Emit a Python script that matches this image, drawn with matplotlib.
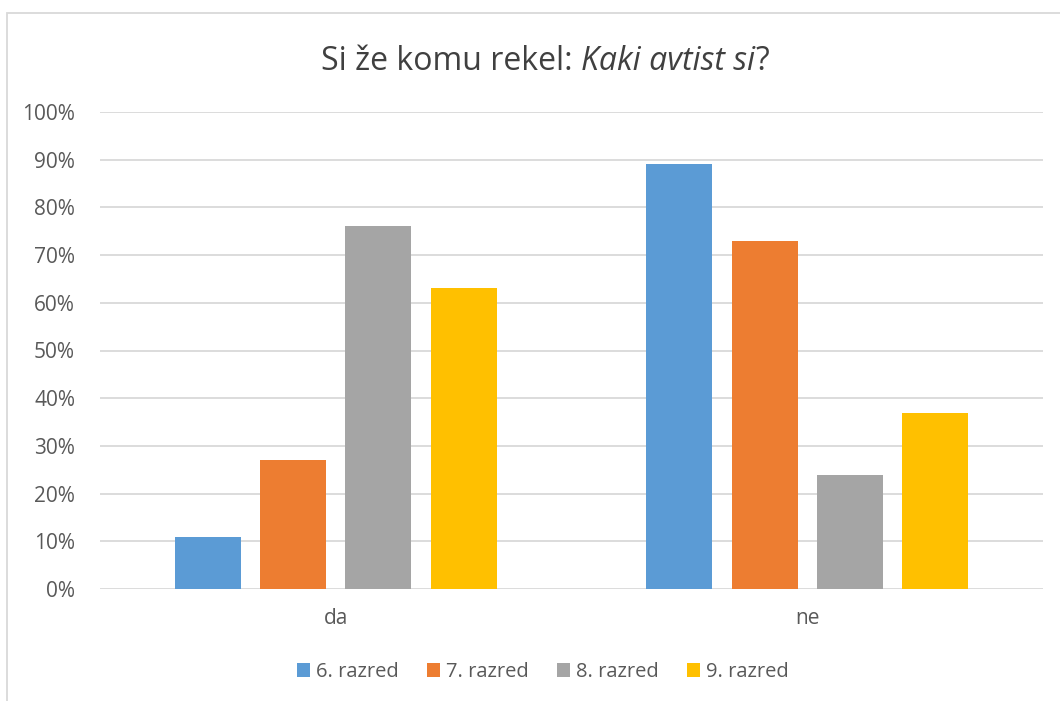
import matplotlib
matplotlib.use("Agg")
import matplotlib.pyplot as plt
import numpy as np
from matplotlib.patches import Rectangle
from matplotlib.ticker import FuncFormatter

categories = ["da", "ne"]
series = ["6. razred", "7. razred", "8. razred", "9. razred"]
values = [
    [11, 89],
    [27, 73],
    [76, 24],
    [63, 37],
]
colors = ["#5B9BD5", "#ED7D31", "#A5A5A5", "#FFC000"]

plt.rcParams["font.family"] = ["Open Sans", "DejaVu Sans"]
text_color = "#595959"

fig = plt.figure(figsize=(10.6, 7.01), dpi=100)
ax = fig.add_axes([100 / 1060, 1 - 589 / 701, 943 / 1060, 477 / 701])

x = np.arange(len(categories))
width = 0.14
step = 0.181
for i, (name, vals) in enumerate(zip(series, values)):
    ax.bar(x + (i - 1.5) * step, vals, width, color=colors[i], label=name, zorder=3)

ax.set_xlim(-0.5, 1.5)
ax.set_ylim(0, 100)
ax.set_yticks(range(0, 101, 10))
ax.yaxis.set_major_formatter(FuncFormatter(lambda v, p: f"{int(v)}%"))
ax.set_xticks(x)
ax.set_xticklabels(categories)
ax.grid(axis="y", color="#D9D9D9", linewidth=1.3, zorder=0)
for s in ax.spines.values():
    s.set_visible(False)
ax.tick_params(length=0, labelsize=15, labelcolor=text_color)
ax.tick_params(axis="x", pad=14)
ax.tick_params(axis="y", pad=18)

# title with italic part
fig.canvas.draw()
r = fig.canvas.get_renderer()
parts = [("Si že komu rekel: ", "normal"), ("Kaki avtist si", "italic"), ("?", "normal")]
texts = []
for s, style in parts:
    t = fig.text(0, 1 - 62 / 701, s, fontsize=23, style=style, color="#404040", va="center")
    texts.append(t)
widths = [t.get_window_extent(r).width for t in texts]
xpos = 545 - sum(widths) / 2
for t, w in zip(texts, widths):
    t.set_x(xpos / 1060)
    xpos += w

ax.legend(loc="center", bbox_to_anchor=(543 / 1060, 1 - 672 / 701), bbox_transform=fig.transFigure,
          ncol=4, frameon=False, fontsize=14.5, labelcolor=text_color, handlelength=0.65, handleheight=0.65,
          handletextpad=0.3, columnspacing=1.4)

fig.patches.append(Rectangle((7 / 1060, -0.1), 1.1, 1 - 13 / 701 + 0.1, transform=fig.transFigure,
                             fill=False, edgecolor="#D9D9D9", linewidth=1.3))

fig.savefig("out.png", dpi=100)
